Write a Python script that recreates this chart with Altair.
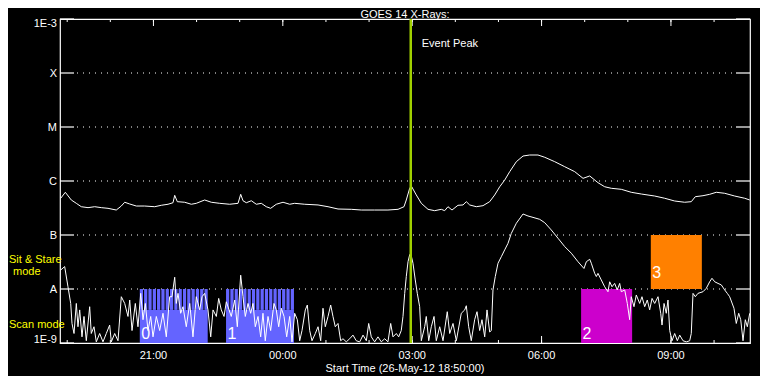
import altair as alt
import pandas as pd

# ---------------- texts ----------------
title_text = "GOES 14 X-Rays:"
x_title = "Start Time (26-May-12 18:50:00)"
start_hhmm = "18:50"
span_minutes = 960  # 18:50 -> 10:50 next day

# ---------------- y levels ----------------
level_flux = [1e-9, 1e-8, 1e-7, 1e-6, 1e-5, 1e-4, 1e-3]
level_labels = ["1E-9", "A", "B", "C", "M", "X", "1E-3"]
grid_flux = [1e-8, 1e-7, 1e-6, 1e-5, 1e-4]

# ---------------- time ticks ----------------
major_ticks = ["21:00", "00:00", "03:00", "06:00", "09:00"]
hour_ticks = ["19:00", "20:00", "21:00", "22:00", "23:00", "00:00", "01:00", "02:00",
              "03:00", "04:00", "05:00", "06:00", "07:00", "08:00", "09:00", "10:00"]

# ---------------- long channel (1-8 A), minutes after start / W m^-2 ----------------
long_t = [1.0, 7.4, 15.7, 22.7, 29.6, 39.0, 48.3, 57.5, 66.8, 78.3,
          85.3, 90.0, 97.0, 106.2, 117.8, 131.8, 140.9, 150.3, 157.2, 159.6,
          163.2, 173.5, 182.7, 189.6, 201.3, 210.5, 222.2, 236.1, 247.7, 251.4,
          254.6, 259.2, 266.2, 273.1, 280.1, 287.0, 293.1, 300.9, 310.3, 319.6,
          326.5, 340.5, 359.0, 372.9, 386.8, 405.3, 419.2, 437.8, 456.3, 470.3,
          478.6, 481.8, 486.5, 488.8, 495.7, 502.7, 512.0, 521.3, 530.5, 535.2,
          539.8, 545.4, 553.7, 560.7, 565.3, 570.0, 579.2, 588.5, 597.8, 604.8,
          611.8, 618.7, 625.7, 634.9, 644.2, 653.5, 665.0, 674.4, 688.3, 702.2,
          716.1, 727.7, 737.0, 748.5, 757.8, 767.0, 780.9, 794.8, 808.8, 827.4,
          841.3, 855.2, 869.1, 878.3, 883.9, 894.6, 903.9, 913.1, 924.8, 938.7,
          952.6, 959.6]
long_f = [4.79e-7, 6.18e-7, 4.45e-7, 3.86e-7, 3.34e-7, 3.21e-7, 3.34e-7, 3.21e-7, 3.12e-7, 2.90e-7,
          3.44e-7, 4.04e-7, 3.75e-7, 3.44e-7, 3.44e-7, 3.34e-7, 3.55e-7, 3.71e-7, 3.96e-7, 5.43e-7,
          4.14e-7, 4.04e-7, 3.71e-7, 3.86e-7, 4.45e-7, 4.04e-7, 3.86e-7, 3.71e-7, 3.86e-7, 5.67e-7,
          4.31e-7, 3.96e-7, 4.31e-7, 3.71e-7, 3.86e-7, 3.34e-7, 3.12e-7, 3.71e-7, 4.04e-7, 3.71e-7,
          3.86e-7, 3.71e-7, 3.60e-7, 3.34e-7, 3.03e-7, 2.99e-7, 2.90e-7, 2.90e-7, 2.90e-7, 2.99e-7,
          3.34e-7, 4.45e-7, 7.33e-7, 8.07e-7, 5.51e-7, 3.86e-7, 2.99e-7, 2.82e-7, 2.99e-7, 2.82e-7,
          3.34e-7, 2.90e-7, 3.55e-7, 3.60e-7, 4.14e-7, 3.60e-7, 3.34e-7, 3.49e-7, 4.14e-7, 5.51e-7,
          7.83e-7, 1.04e-6, 1.49e-6, 2.28e-6, 2.90e-6, 3.03e-6, 3.03e-6, 2.75e-6, 2.28e-6, 1.84e-6,
          1.49e-6, 1.12e-6, 1.24e-6, 9.31e-7, 7.83e-7, 7.33e-7, 7.02e-7, 6.18e-7, 5.74e-7, 5.27e-7,
          4.79e-7, 4.26e-7, 4.04e-7, 4.14e-7, 5.12e-7, 5.34e-7, 5.67e-7, 6.18e-7, 5.92e-7, 5.27e-7,
          4.79e-7, 4.45e-7]

# ---------------- short channel (0.5-4 A) ----------------
short_t = [1.0, 6.5, 11.1, 14.9, 16.7, 19.5, 22.7, 25.0, 27.4, 30.6,
           33.4, 36.6, 41.3, 43.5, 47.3, 50.5, 55.2, 59.8, 64.4, 69.1,
           71.4, 76.1, 80.7, 85.3, 90.0, 94.6, 97.0, 100.2, 104.8, 108.5,
           112.3, 115.5, 118.7, 122.4, 126.2, 129.4, 134.0, 138.7, 143.3, 147.9,
           152.6, 155.8, 159.6, 161.8, 164.2, 167.9, 171.1, 175.7, 180.5, 185.0,
           189.6, 194.4, 197.6, 201.3, 205.9, 209.7, 212.9, 217.5, 220.8, 224.4,
           228.2, 231.4, 238.3, 243.1, 246.7, 251.4, 254.6, 257.8, 261.6, 265.3,
           268.5, 271.7, 275.5, 279.2, 282.4, 285.6, 289.4, 293.1, 297.7, 300.9,
           304.3, 307.9, 311.7, 315.4, 319.6, 322.8, 326.5, 330.2, 333.5, 336.7,
           341.3, 344.1, 347.4, 350.6, 355.2, 359.0, 362.7, 365.9, 369.1, 372.9,
           376.6, 379.8, 383.0, 386.8, 390.5, 393.7, 398.3, 403.1, 407.6, 412.2,
           417.0, 421.6, 426.2, 429.5, 433.1, 437.8, 442.4, 447.0, 451.8, 456.3,
           460.1, 463.3, 467.9, 471.2, 474.8, 477.2, 479.6, 481.8, 484.2, 486.5,
           487.9, 491.1, 494.3, 497.1, 500.4, 502.7, 507.4, 509.6, 513.0, 516.6,
           520.4, 523.5, 528.3, 532.9, 538.8, 542.2, 546.8, 551.4, 558.3, 563.1,
           565.3, 568.6, 572.2, 576.9, 580.2, 583.9, 587.1, 590.9, 594.1, 597.8,
           600.1, 602.4, 605.6, 609.4, 614.0, 618.7, 623.3, 627.9, 634.9, 644.2,
           651.1, 658.1, 667.4, 674.4, 683.5, 692.9, 702.2, 711.4, 720.7, 729.0,
           732.3, 737.0, 739.2, 743.9, 746.2, 748.5, 753.1, 757.8, 762.4, 764.8,
           768.0, 771.7, 775.3, 778.7, 780.9, 785.7, 789.3, 792.6, 794.8, 798.6,
           801.8, 806.5, 809.7, 813.5, 817.1, 820.4, 823.7, 827.4, 832.0, 835.8,
           837.6, 840.4, 843.5, 845.9, 848.3, 851.5, 855.2, 858.9, 862.2, 866.8,
           871.4, 876.1, 878.3, 880.7, 883.9, 887.6, 894.6, 899.2, 903.9, 907.1,
           910.9, 915.5, 920.1, 924.8, 928.4, 931.7, 937.7, 940.9, 944.3, 947.1,
           950.3, 953.5, 956.3, 959.6]
short_f = [2.25e-8, 2.6e-8, 1.1e-8, 5.4e-9, 2.3e-9, 1.5e-9, 5.4e-9, 2.0e-9, 4.1e-9, 1.3e-9,
           3.1e-9, 1.1e-9, 4.7e-9, 1.5e-9, 2.0e-9, 1.05e-9, 1.5e-9, 1.05e-9, 1.5e-9, 2.15e-9,
           1.05e-9, 1.5e-9, 1.1e-9, 7.2e-9, 5.4e-9, 3.1e-9, 6.25e-9, 1.7e-9, 5.4e-9, 2.0e-9,
           8.3e-9, 2.7e-9, 5.4e-9, 1.7e-9, 3.1e-9, 1.3e-9, 3.1e-9, 1.7e-9, 3.55e-9, 1.3e-9,
           7.2e-9, 7.2e-9, 1.65e-8, 5.4e-9, 8.3e-9, 3.55e-9, 4.7e-9, 2.0e-9, 5.4e-9, 1.3e-9,
           7.2e-9, 4.1e-9, 7.2e-9, 8.3e-9, 4.1e-9, 1.3e-9, 4.1e-9, 3.1e-9, 6.7e-9, 4.1e-9,
           3.1e-9, 5.8e-9, 3.1e-9, 6.25e-9, 2.0e-9, 1.8e-8, 7.2e-9, 3.1e-9, 5.4e-9, 3.55e-9,
           5.4e-9, 2.0e-9, 3.1e-9, 1.3e-9, 3.55e-9, 1.1e-9, 3.1e-9, 1.7e-9, 5.4e-9, 4.1e-9,
           2.0e-9, 4.4e-9, 3.1e-9, 1.3e-9, 3.1e-9, 1.05e-9, 3.55e-9, 2.7e-9, 1.1e-9, 1.7e-9,
           4.1e-9, 5.05e-9, 1.7e-9, 1.1e-9, 1.5e-9, 2.0e-9, 1.1e-9, 4.4e-9, 2.0e-9, 3.1e-9,
           5.05e-9, 3.1e-9, 2.0e-9, 2.3e-9, 1.1e-9, 1.2e-9, 1.05e-9, 1.2e-9, 1.4e-9, 1.1e-9,
           1.05e-9, 1.4e-9, 1.1e-9, 2.3e-9, 1.3e-9, 1.05e-9, 1.3e-9, 1.05e-9, 1.2e-9, 1.05e-9,
           2.3e-9, 1.3e-9, 1.5e-9, 1.3e-9, 1.7e-9, 3.1e-9, 8.3e-9, 1.7e-8, 3.2e-8, 4.3e-8,
           4.6e-8, 3.0e-8, 1.47e-8, 8.3e-9, 4.7e-9, 1.1e-9, 2.0e-9, 3.1e-9, 1.1e-9, 2.0e-9,
           3.1e-9, 1.1e-9, 2.0e-9, 1.1e-9, 3.8e-9, 1.5e-9, 2.3e-9, 1.1e-9, 3.55e-9, 4.1e-9,
           4.9e-9, 2.0e-9, 1.1e-9, 2.7e-9, 3.8e-9, 1.7e-9, 2.7e-9, 1.3e-9, 4.1e-9, 1.6e-9,
           1.7e-9, 9.6e-9, 1.7e-8, 3.0e-8, 3.96e-8, 5.3e-8, 7.0e-8, 1.07e-7, 1.65e-7, 2.45e-7,
           2.25e-7, 2.12e-7, 1.95e-7, 1.69e-7, 1.24e-7, 8.7e-8, 6.1e-8, 4.6e-8, 3.2e-8, 2.4e-8,
           3.2e-8, 3.55e-8, 3.0e-8, 1.95e-8, 1.7e-8, 1.95e-8, 1.47e-8, 1.1e-8, 8.9e-9, 1.36e-8,
           1.1e-8, 1.27e-8, 9.6e-9, 1.27e-8, 8.9e-9, 9.6e-9, 5.4e-9, 2.7e-9, 7.2e-9, 4.7e-9,
           7.75e-9, 5.4e-9, 7.2e-9, 4.7e-9, 6.25e-9, 4.1e-9, 6.7e-9, 5.4e-9, 7.2e-9, 3.55e-9,
           2.15e-9, 5.4e-9, 3.55e-9, 6.25e-9, 1.7e-9, 1.1e-9, 1.5e-9, 1.1e-9, 1.4e-9, 1.1e-9,
           1.05e-9, 1.1e-9, 1.5e-9, 8.3e-9, 7.2e-9, 8.3e-9, 8.9e-9, 1.03e-8, 1.36e-8, 1.58e-8,
           1.36e-8, 1.27e-8, 1.19e-8, 9.6e-9, 8.3e-9, 7.2e-9, 4.4e-9, 2.3e-9, 3.55e-9, 2.7e-9,
           1.1e-9, 2.7e-9, 2.0e-9, 3.55e-9]

# ---------------- observation blocks ----------------
scan_exposure = 4.5  # minutes per raster position
scan_starts = [
    [111, 117, 123, 129, 135, 141, 147, 153, 159, 165, 171, 177, 183, 189, 195, 201],
    [231, 237, 243, 249, 255, 261, 267, 273, 279, 285, 291, 297, 303, 309, 315, 321],
]
scan_labels = ["0", "1"]
scan_label_flux = [1.19e-9, 1.19e-9]
scan_flux_low, scan_flux_mid, scan_flux_top = 1e-9, 4.1e-9, 1e-8
scan_color = "#6464ff"

box_start = [725, 822]
box_end = [796, 893]
box_low = [1e-9, 1e-8]
box_high = [1e-8, 1e-7]
box_color = ["#cc00cc", "#ff8000"]
box_label = ["2", "3"]
box_label_flux = [1.19e-9, 1.6e-8]

event_time = "02:58"
event_text = "Event Peak"

side_texts = ["Sit & Stare", "mode", "Scan mode"]


def mins(hhmm):
    h, m = map(int, hhmm.split(":"))
    sh, sm = map(int, start_hhmm.split(":"))
    return ((h * 60 + m) - (sh * 60 + sm)) % 1440


W, H = 690, 324
FONT = "Liberation Sans"
xsc = alt.Scale(domain=[0, span_minutes], nice=False, zero=False)
ysc = alt.Scale(type="log", domain=[1e-9, 1e-3], nice=False)


def X(f="m"):
    return alt.X(f"{f}:Q", scale=xsc, axis=None)


def Y(f="flux"):
    return alt.Y(f"{f}:Q", scale=ysc, axis=None)


n_long = min(len(long_t), len(long_f))
n_short = min(len(short_t), len(short_f))
curves = pd.concat([
    pd.DataFrame({"m": long_t[:n_long], "flux": long_f[:n_long], "ch": "long"}),
    pd.DataFrame({"m": short_t[:n_short], "flux": short_f[:n_short], "ch": "short"}),
])

scan_rows = []
stripe_rows = []
for i, starts in enumerate(scan_starts):
    scan_rows.append({"m": starts[0], "m2": starts[-1] + scan_exposure,
                      "f": scan_flux_low, "f2": scan_flux_mid,
                      "lab": scan_labels[i], "lf": scan_label_flux[i]})
    for s in starts:
        stripe_rows.append({"m": s, "m2": s + scan_exposure,
                            "f": scan_flux_mid, "f2": scan_flux_top})
scan_df = pd.DataFrame(scan_rows)
stripe_df = pd.DataFrame(stripe_rows)
box_df = pd.DataFrame({"m": box_start, "m2": box_end, "f": box_low, "f2": box_high,
                       "c": box_color, "lab": box_label, "lf": box_label_flux})

grid_df = pd.DataFrame({"flux": grid_flux})
lev_df = pd.DataFrame({"flux": level_flux, "lab": level_labels})
major_df = pd.DataFrame({"m": [mins(t) for t in major_ticks], "lab": major_ticks})
hour_df = pd.DataFrame({"m": [mins(t) for t in hour_ticks]})
event_df = pd.DataFrame({"m": [mins(event_time)], "lab": [event_text]})

layers = []

# grid (dotted) and y ticks on both sides
layers.append(alt.Chart(grid_df).mark_rule(color="white", strokeWidth=1, strokeDash=[1, 5])
              .encode(y=Y(), x=alt.value(17), x2=alt.value(W - 16)))
layers.append(alt.Chart(lev_df).mark_rule(color="white", strokeWidth=1.2)
              .encode(y=Y(), x=alt.value(0), x2=alt.value(14)))
layers.append(alt.Chart(lev_df).mark_rule(color="white", strokeWidth=1.2)
              .encode(y=Y(), x=alt.value(W - 14), x2=alt.value(W)))

# x ticks top/bottom
for y0, y1, df in [(0, 3, hour_df), (0, 7, major_df), (H - 3, H, hour_df), (H - 7, H, major_df)]:
    layers.append(alt.Chart(df).mark_rule(color="white", strokeWidth=1)
                  .encode(x=X(), y=alt.value(y0), y2=alt.value(y1)))

# observation blocks
layers.append(alt.Chart(scan_df).mark_rect(color=scan_color)
              .encode(x=X(), x2="m2:Q", y=Y("f"), y2="f2:Q"))
layers.append(alt.Chart(stripe_df).mark_rect(color=scan_color)
              .encode(x=X(), x2="m2:Q", y=Y("f"), y2="f2:Q"))
layers.append(alt.Chart(box_df).mark_rect()
              .encode(x=X(), x2="m2:Q", y=Y("f"), y2="f2:Q",
                      color=alt.Color("c:N", scale=None)))

# block numbers
layers.append(alt.Chart(scan_df).mark_text(color="white", font=FONT, fontSize=16, align="left",
                                           baseline="alphabetic", dx=1.5)
              .encode(x=X(), y=Y("lf"), text="lab:N"))
layers.append(alt.Chart(box_df).mark_text(color="white", font=FONT, fontSize=16, align="left",
                                          baseline="alphabetic", dx=1.5)
              .encode(x=X(), y=Y("lf"), text="lab:N"))

# curves
layers.append(alt.Chart(curves).mark_line(color="white", strokeWidth=1, clip=True)
              .encode(x=X(), y=Y(), detail="ch:N", order="m:Q"))

# event peak
layers.append(alt.Chart(event_df).mark_rule(color="#a0d000", strokeWidth=2.5)
              .encode(x=X()))
layers.append(alt.Chart(event_df).mark_text(color="white", font=FONT, fontSize=11, align="left",
                                            baseline="alphabetic", dx=11)
              .encode(x=X(), y=alt.value(28), text="lab:N"))

# y labels (flush at ends)
lab_style = dict(color="white", font=FONT, fontSize=11, align="right", baseline="alphabetic")
layers.append(alt.Chart(lev_df.iloc[1:-1]).mark_text(dy=4, **lab_style)
              .encode(x=alt.value(-3), y=Y(), text="lab:N"))
layers.append(alt.Chart(lev_df.iloc[:1]).mark_text(dy=0, **lab_style)
              .encode(x=alt.value(-3), y=Y(), text="lab:N"))
layers.append(alt.Chart(lev_df.iloc[-1:]).mark_text(dy=8, **lab_style)
              .encode(x=alt.value(-3), y=Y(), text="lab:N"))

# x labels
layers.append(alt.Chart(major_df).mark_text(color="white", font=FONT, fontSize=11, align="center",
                                            baseline="alphabetic")
              .encode(x=X(), y=alt.value(340), text="lab:N"))

# titles and side labels
layers.append(alt.Chart(pd.DataFrame({"t": [title_text]})).mark_text(
    color="white", font=FONT, fontSize=11, align="center", baseline="alphabetic")
    .encode(x=alt.value(W / 2), y=alt.value(-0.8), text="t:N"))
layers.append(alt.Chart(pd.DataFrame({"t": [x_title]})).mark_text(
    color="white", font=FONT, fontSize=11, align="center", baseline="alphabetic")
    .encode(x=alt.value(W / 2), y=alt.value(353), text="t:N"))
side_pos = [(-51, 244), (-47, 256), (-51, 309)]
for txt, (px, py) in zip(side_texts, side_pos):
    layers.append(alt.Chart(pd.DataFrame({"t": [txt]})).mark_text(
        color="#ffff00", font=FONT, fontSize=11, align="left", baseline="alphabetic")
        .encode(x=alt.value(px), y=alt.value(py), text="t:N"))

chart = alt.layer(*layers).properties(
    width=W, height=H,
    autosize=alt.AutoSizeParams(type="none"),
    padding={"left": 52, "top": 11, "right": 10, "bottom": 33},
    background="black",
).configure_view(stroke="white", strokeWidth=1.2)

chart.save("out.html", embed_options={"renderer": "svg", "actions": False})
